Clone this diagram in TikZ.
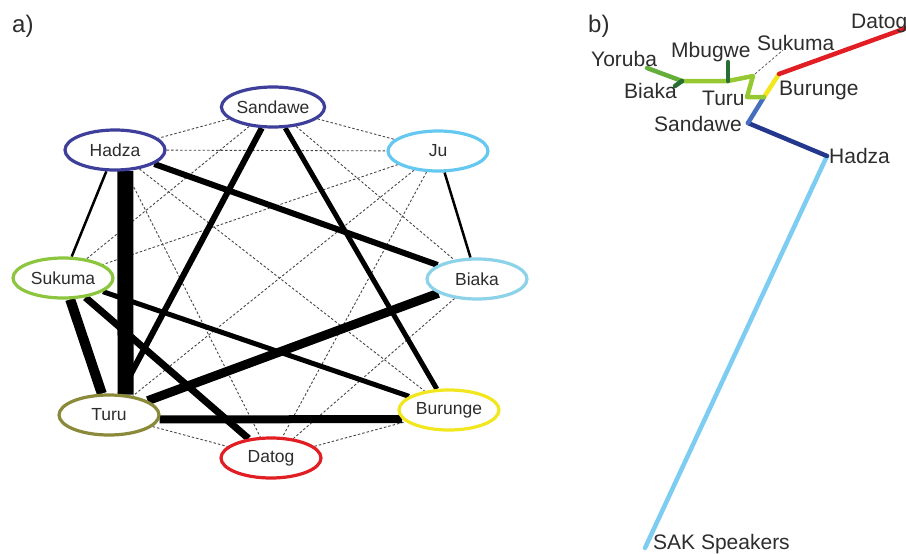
\documentclass[tikz,border=0pt]{standalone}
\usepackage{fontspec}
\setmainfont{Liberation Sans}
\usetikzlibrary{positioning,backgrounds,shapes.geometric}
\definecolor{txt}{RGB}{45,45,45}
\definecolor{cSandawe}{RGB}{62,62,155}
\definecolor{cJu}{RGB}{100,200,240}
\definecolor{cSukuma}{RGB}{140,198,62}
\definecolor{cBiaka}{RGB}{140,210,232}
\definecolor{cTuru}{RGB}{138,138,58}
\definecolor{cBurunge}{RGB}{242,230,30}
\definecolor{cDatog}{RGB}{225,30,35}
\definecolor{tBlue}{RGB}{70,110,190}
\definecolor{tNavy}{RGB}{35,55,140}
\definecolor{tSky}{RGB}{125,205,242}
\definecolor{tLime}{RGB}{150,200,50}
\definecolor{tGreen}{RGB}{100,175,60}
\definecolor{tDark}{RGB}{40,110,50}
\tikzset{
    pop/.style = {
        draw,
        shape=ellipse,
        minimum width=100pt,
        minimum height=40pt,
        inner sep=0pt,
        line width=3.2pt,
        fill=white,
        text=txt,
        font=\fontsize{17.5}{20}\selectfont
    },
    weak/.style = {
        draw=gray!55!black,
        dash pattern=on 2.5pt off 2pt,
        line width=0.9pt
    },
    strong/.style = {
        draw=black
    },
    tag/.style = {
        anchor=base west,
        inner sep=0pt,
        text=txt,
        font=\fontsize{24}{28}\selectfont
    },
    lbl/.style = {
        anchor=base west,
        inner sep=0pt,
        text=txt,
        font=\fontsize{21}{24}\selectfont
    },
    branch/.style = {
        line width=4.5pt,
        line cap=round,
        line join=round
    },
}

\begin{document}
\begin{tikzpicture}[x=1pt, y=-1pt]
    \useasboundingbox (0,0) rectangle (906,554);

    % a) network
    \node[tag] (taga) at (12,32) {a)};
    \node[pop, draw=cSandawe] (sandawe) at (273,107) {Sandawe};
    \node[pop, draw=cSandawe] (hadza) at (115,150) {Hadza};
    \node[pop, draw=cJu] (ju) at (438,151) {Ju};
    \node[pop, draw=cSukuma] (sukuma) at (63,278) {Sukuma};
    \node[pop, draw=cBiaka] (biaka) at (477,279) {Biaka};
    \node[pop, draw=cTuru] (turu) at (109,415) {Turu};
    \node[pop, draw=cBurunge] (burunge) at (449,410) {Burunge};
    \node[pop, draw=cDatog] (datog) at (271,458) {Datog};

    \begin{scope}[on background layer]
        \path[draw, weak] (sandawe) -- (hadza);
        \path[draw, weak] (sandawe) -- (ju);
        \path[draw, weak] (hadza) -- (ju);
        \path[draw, weak] (sandawe) -- (biaka);
        \path[draw, weak] (sandawe) -- (sukuma);
        \path[draw, weak] (hadza) -- (datog);
        \path[draw, weak] (hadza) -- (burunge);
        \path[draw, weak] (ju) -- (sukuma);
        \path[draw, weak] (ju) -- (turu);
        \path[draw, weak] (ju) -- (datog);
        \path[draw, weak] (biaka) -- (datog);
        \path[draw, weak] (turu) -- (datog);
        \path[draw, weak] (datog) -- (burunge);

        \path[draw, strong, line width=16pt] (hadza.296) -- (turu.51);
        \path[draw, strong, line width=10pt] (sukuma) -- (turu);
        \path[draw, strong, line width=9pt] (biaka) -- (turu);
        \path[draw, strong, line width=8pt] (turu.355) -- (burunge.191);
        \path[draw, strong, line width=7pt] (sukuma) -- (datog);
        \path[draw, strong, line width=6pt] (sandawe) -- (turu);
        \path[draw, strong, line width=6pt] (hadza) -- (biaka);
        \path[draw, strong, line width=5pt] (sandawe) -- (burunge);
        \path[draw, strong, line width=5pt] (sukuma) -- (burunge);
        \path[draw, strong, line width=2.5pt] (hadza) -- (sukuma);
        \path[draw, strong, line width=2.5pt] (ju) -- (biaka);
    \end{scope}

    % b) tree
    \node[tag] (tagb) at (588,32) {b)};
    \coordinate (datogT) at (912,26);
    \coordinate (burJ) at (779,74);
    \coordinate (innerJ) at (764,97);
    \coordinate (sanJ) at (748,123);
    \coordinate (hadJ) at (827,156);
    \coordinate (sakT) at (645,548);
    \coordinate (turuA) at (747,97);
    \coordinate (turuB) at (753,76);
    \coordinate (mbJ) at (728,81);
    \coordinate (biJ) at (682,81);
    \coordinate (yorT) at (647,68);
    \coordinate (mbT) at (728,62);
    \coordinate (biT) at (675,86);
    \coordinate (sukT) at (783,50);

    \path[draw, branch, tSky] (hadJ) -- (sakT);
    \path[draw, branch, tNavy] (sanJ) -- (hadJ);
    \path[draw, branch, tBlue] (innerJ) -- (sanJ);
    \path[draw, branch, cBurunge] (burJ) -- (innerJ);
    \path[draw, branch, cDatog] (burJ) -- (datogT);
    \path[draw, branch, tLime] (innerJ) -- (turuA) -- (turuB) -- (mbJ) -- (biJ);
    \path[draw, branch, tGreen] (biJ) -- (yorT);
    \path[draw, branch, tDark] (mbJ) -- (mbT);
    \path[draw, branch, tDark] (biJ) -- (biT);
    \path[draw, weak, line width=0.7pt] ([shift={(2,-2)}]turuB) -- (sukT);

    \node[lbl] (lYoruba) at (591,66) {Yoruba};
    \node[lbl] (lMbugwe) at (671,57) {Mbugwe};
    \node[lbl] (lSukuma) at (757,50) {Sukuma};
    \node[lbl] (lBiaka) at (624,98) {Biaka};
    \node[lbl] (lTuru) at (702,105) {Turu};
    \node[lbl] (lBurunge) at (779,95) {Burunge};
    \node[lbl] (lSandawe) at (654,131) {Sandawe};
    \node[lbl] (lHadza) at (829,163) {Hadza};
    \node[lbl] (lSak) at (653,549) {SAK Speakers};
    \node[lbl] (lDatog) at (851,28) {Datog};
\end{tikzpicture}
\end{document}
